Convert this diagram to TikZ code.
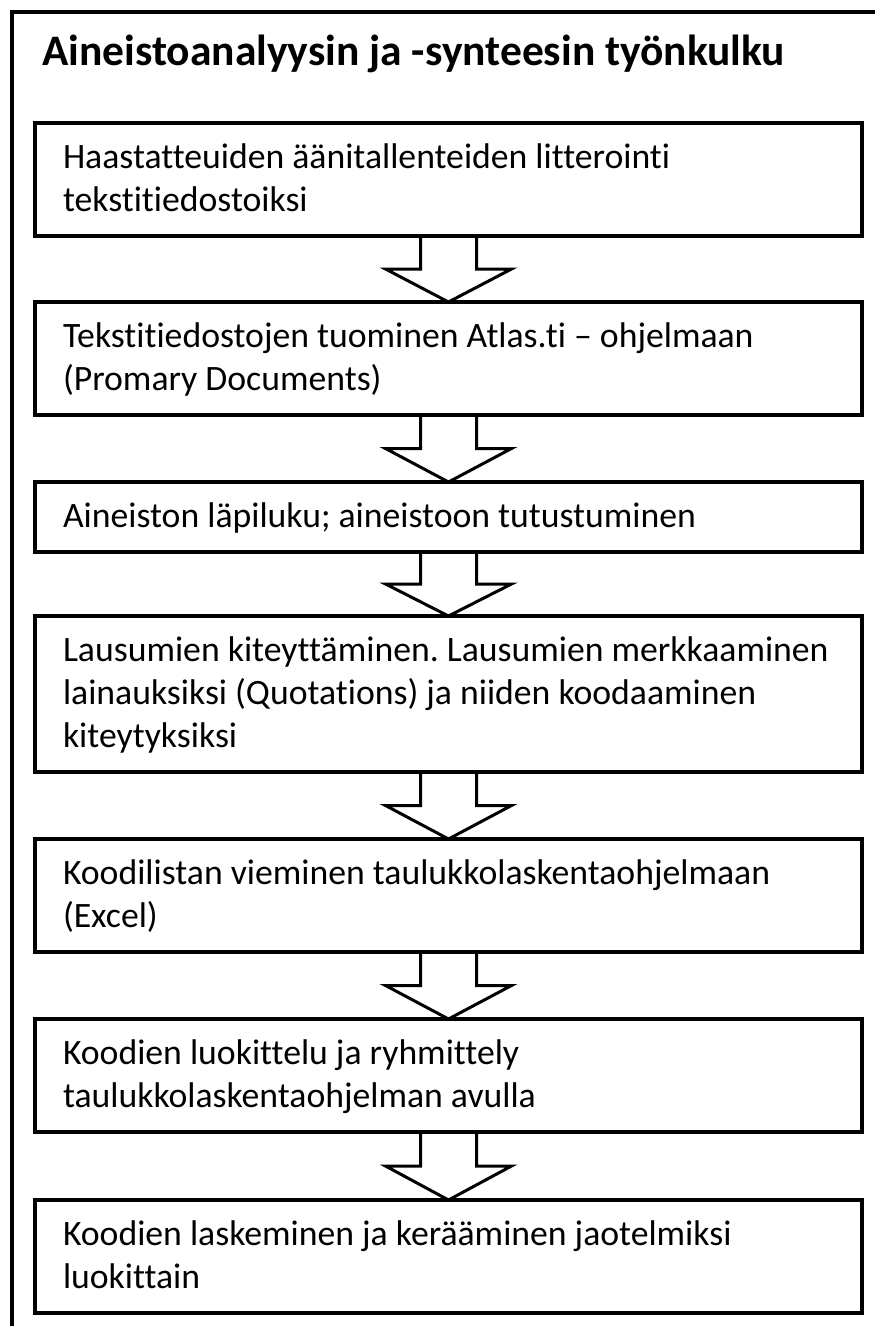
\documentclass[tikz,border=0pt]{standalone}
\usepackage{fontspec}
\setmainfont{Carlito}[Ligatures=NoCommon]
\usetikzlibrary{calc}
\newcommand\boxstrut{\rule[-11pt]{0pt}{43pt}}
\frenchspacing
\begin{document}
\begin{tikzpicture}[x=1pt, y=1pt,
  stepbox/.style={draw, line width=4pt, outer sep=0pt, anchor=north west, text width=771pt, minimum width=827pt, inner xsep=28pt, inner ysep=13.5pt, align=flush left, font={\fontsize{35.7}{43}\selectfont}, execute at begin node=\boxstrut, execute at end node=\boxstrut},
  flowarrow/.style={line width=3pt}]
\useasboundingbox (0,0) rectangle (875,-1326);
\draw[line width=4pt] (12,-11.5) rectangle (890,-1340);
\node[anchor=base west, inner sep=0pt, font={\fontsize{43.5}{52}\selectfont\bfseries}] (title) at (42,-65) {Aineistoanalyysin ja -synteesin työnkulku};
\node[stepbox] (litterointi) at (35,-123) {Haastatteuiden äänitallenteiden litterointi\\tekstitiedostoiksi};
\node[stepbox] (tuonti) at (35,-302) {Tekstitiedostojen tuominen Atlas.ti – ohjelmaan\\(Promary Documents)};
\node[stepbox] (lapiluku) at (35,-482) {Aineiston läpiluku; aineistoon tutustuminen};
\node[stepbox] (kiteytys) at (35,-616) {Lausumien kiteyttäminen. Lausumien merkkaaminen\\lainauksiksi (Quotations) ja niiden koodaaminen\\kiteytyksiksi};
\node[stepbox] (vienti) at (35,-839) {Koodilistan vieminen taulukkolaskentaohjelmaan\\(Excel)};
\node[stepbox] (luokittelu) at (35,-1019) {Koodien luokittelu ja ryhmittely\\taulukkolaskentaohjelman avulla};
\node[stepbox] (laskeminen) at (35,-1200) {Koodien laskeminen ja kerääminen jaotelmiksi\\luokittain};
\draw[flowarrow] ($(litterointi.south)+(-28,0)$) |- ($(litterointi.south)!0.5!(tuonti.north)+(-63,0)$) -- (tuonti.north) -- ($(litterointi.south)!0.5!(tuonti.north)+(63,0)$) -| ($(litterointi.south)+(28,0)$);
\draw[flowarrow] ($(tuonti.south)+(-28,0)$) |- ($(tuonti.south)!0.5!(lapiluku.north)+(-63,0)$) -- (lapiluku.north) -- ($(tuonti.south)!0.5!(lapiluku.north)+(63,0)$) -| ($(tuonti.south)+(28,0)$);
\draw[flowarrow] ($(lapiluku.south)+(-28,0)$) |- ($(lapiluku.south)!0.5!(kiteytys.north)+(-63,0)$) -- (kiteytys.north) -- ($(lapiluku.south)!0.5!(kiteytys.north)+(63,0)$) -| ($(lapiluku.south)+(28,0)$);
\draw[flowarrow] ($(kiteytys.south)+(-28,0)$) |- ($(kiteytys.south)!0.5!(vienti.north)+(-63,0)$) -- (vienti.north) -- ($(kiteytys.south)!0.5!(vienti.north)+(63,0)$) -| ($(kiteytys.south)+(28,0)$);
\draw[flowarrow] ($(vienti.south)+(-28,0)$) |- ($(vienti.south)!0.5!(luokittelu.north)+(-63,0)$) -- (luokittelu.north) -- ($(vienti.south)!0.5!(luokittelu.north)+(63,0)$) -| ($(vienti.south)+(28,0)$);
\draw[flowarrow] ($(luokittelu.south)+(-28,0)$) |- ($(luokittelu.south)!0.5!(laskeminen.north)+(-63,0)$) -- (laskeminen.north) -- ($(luokittelu.south)!0.5!(laskeminen.north)+(63,0)$) -| ($(luokittelu.south)+(28,0)$);
\end{tikzpicture}
\end{document}
